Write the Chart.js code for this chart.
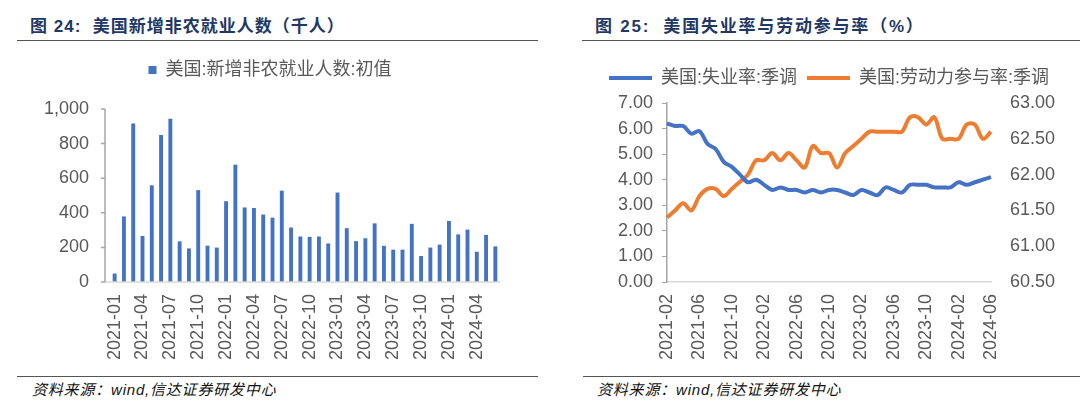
<!DOCTYPE html>
<html>
<head>
<meta charset="utf-8">
<script src="https://cdn.jsdelivr.net/npm/chart.js@4.4.1/dist/chart.umd.min.js"></script>
<style>
  html, body { margin: 0; padding: 0; background: #fff; }
  body { width: 1080px; height: 403px; position: relative; overflow: hidden;
         font-family: "Liberation Sans", "Noto Sans CJK SC", sans-serif; }
  .title { position: absolute; top: 17px; font-size: 17px; font-weight: bold; color: #1f3864;
           letter-spacing: 1px; white-space: pre; line-height: 20px; }
  .rule { position: absolute; height: 1px; background: #555; }
  .foot { position: absolute; top: 381px; font-size: 15px; font-style: italic; color: #111;
          letter-spacing: 0.8px; white-space: pre; line-height: 18px; }
  .box { position: absolute; }
</style>
</head>
<body>
<div class="title" style="left:30px">图 24:  美国新增非农就业人数（千人）</div>
<div class="rule" style="left:17px; width:521px; top:40px"></div>
<div class="title" style="left:595px; letter-spacing:1.8px">图 25:  美国失业率与劳动参与率（%）</div>
<div class="rule" style="left:582px; width:498px; top:40px"></div>

<div class="box" style="left:0; top:46px; width:540px; height:330px"><canvas id="payrollChart"></canvas></div>
<div class="box" style="left:578px; top:46px; width:502px; height:330px"><canvas id="rateChart"></canvas></div>

<div class="rule" style="left:17px; width:521px; top:376px"></div>
<div class="rule" style="left:583px; width:497px; top:376px"></div>
<div class="foot" style="left:32px">资料来源：wind,信达证券研发中心</div>
<div class="foot" style="left:597px">资料来源：wind,信达证券研发中心</div>

<script>
// left chart: monthly nonfarm payrolls, first print (thousands)
const payrollMonths = [
    '2021-01','2021-02','2021-03','2021-04','2021-05','2021-06','2021-07','2021-08','2021-09','2021-10','2021-11','2021-12',
    '2022-01','2022-02','2022-03','2022-04','2022-05','2022-06','2022-07','2022-08','2022-09','2022-10','2022-11','2022-12',
    '2023-01','2023-02','2023-03','2023-04','2023-05','2023-06','2023-07','2023-08','2023-09','2023-10','2023-11','2023-12',
    '2024-01','2024-02','2024-03','2024-04','2024-05','2024-06'
];
const payrolls = [
    49, 379, 916, 266, 559, 850, 943, 235, 194, 531, 210, 199,
    467, 678, 431, 428, 390, 372, 528, 315, 263, 261, 263, 223,
    517, 311, 236, 253, 339, 209, 187, 187, 336, 150, 199, 216,
    353, 275, 303, 175, 272, 206
];

// right chart: unemployment rate and participation rate, seasonally adjusted
const rateMonths = [
    '2021-02','2021-03','2021-04','2021-05','2021-06','2021-07','2021-08','2021-09','2021-10','2021-11','2021-12',
    '2022-01','2022-02','2022-03','2022-04','2022-05','2022-06','2022-07','2022-08','2022-09','2022-10','2022-11','2022-12',
    '2023-01','2023-02','2023-03','2023-04','2023-05','2023-06','2023-07','2023-08','2023-09','2023-10','2023-11','2023-12',
    '2024-01','2024-02','2024-03','2024-04','2024-05','2024-06'
];
const unemployment = [
    6.2, 6.1, 6.1, 5.8, 5.9, 5.4, 5.2, 4.7, 4.5, 4.2, 3.9,
    4.0, 3.8, 3.6, 3.7, 3.6, 3.6, 3.5, 3.6, 3.5, 3.6, 3.6, 3.5,
    3.4, 3.6, 3.5, 3.4, 3.7, 3.6, 3.5, 3.8, 3.8, 3.8, 3.7, 3.7,
    3.7, 3.9, 3.8, 3.9, 4.0, 4.1
];
const participation = [
    61.4, 61.5, 61.6, 61.5, 61.7, 61.8, 61.8, 61.7, 61.8, 61.9, 62.0,
    62.2, 62.2, 62.3, 62.2, 62.3, 62.2, 62.1, 62.4, 62.3, 62.3, 62.1, 62.3,
    62.4, 62.5, 62.6, 62.6, 62.6, 62.6, 62.6, 62.8, 62.8, 62.7, 62.8, 62.5,
    62.5, 62.5, 62.7, 62.7, 62.5, 62.6
];

const FONT = '"Liberation Sans", "Noto Sans CJK SC", sans-serif';
const GREY = '#595959';
const BLUE = '#4472c4';
const ORANGE = '#ed7d31';

Chart.defaults.font.family = FONT;
Chart.defaults.color = GREY;
Chart.defaults.animation = false;

// Excel puts the value axis a bit left of the first bar
const offsetAxis = {
    id: 'offsetAxis',
    afterDraw(chart) {
        const { ctx, chartArea: a, scales: { y } } = chart;
        const x0 = a.left - 5;
        ctx.save();
        ctx.lineWidth = 1.5;
        ctx.strokeStyle = '#d9d9d9';
        ctx.beginPath();
        ctx.moveTo(x0, a.bottom);
        ctx.lineTo(a.right, a.bottom);
        ctx.stroke();
        ctx.strokeStyle = '#a6a6a6';
        ctx.beginPath();
        ctx.moveTo(x0, a.top);
        ctx.lineTo(x0, a.bottom);
        y.ticks.forEach((t, i) => {
            const py = y.getPixelForTick(i);
            ctx.moveTo(x0 - 4, py);
            ctx.lineTo(x0, py);
        });
        ctx.stroke();
        ctx.restore();
    }
};

// empty subtitle used only as a gap between legend and plot
const spacer = gap => ({
    display: true, text: '', weight: 500,
    font: { size: 1, lineHeight: 1 }, padding: { top: gap - 1, bottom: 0 }
});

new Chart(document.getElementById('payrollChart'), {
    type: 'bar',
    data: {
        labels: payrollMonths,
        datasets: [{
            label: '美国:新增非农就业人数:初值',
            data: payrolls,
            backgroundColor: BLUE,
            barPercentage: 0.42,
            categoryPercentage: 1.0
        }]
    },
    options: {
        responsive: true,
        maintainAspectRatio: false,
        layout: { padding: { left: 40, right: 40, top: 5, bottom: 0 } },
        plugins: {
            legend: {
                labels: { boxWidth: 8, boxHeight: 8, font: { size: 18 }, color: GREY, padding: 10 }
            },
            subtitle: spacer(20),
            tooltip: { enabled: false }
        },
        scales: {
            x: {
                grid: { display: false },
                border: { display: false },
                afterFit: s => { s.height = 94; },
                ticks: {
                    autoSkip: false, minRotation: 90, maxRotation: 90, padding: 4,
                    font: { size: 18 }, color: GREY,
                    callback: (v, i) => i % 3 === 0 ? payrollMonths[i] : ''
                }
            },
            y: {
                min: 0, max: 1000,
                grid: { display: false },
                border: { display: false },
                afterFit: s => { s.width = 70; },
                ticks: {
                    stepSize: 200, padding: 13, font: { size: 18 }, color: GREY,
                    callback: v => v.toLocaleString('en-US')
                }
            }
        }
    },
    plugins: [offsetAxis]
});

new Chart(document.getElementById('rateChart'), {
    type: 'line',
    data: {
        labels: rateMonths,
        datasets: [
            {
                label: '美国:失业率:季调',
                data: unemployment,
                borderColor: BLUE,
                backgroundColor: BLUE,
                borderWidth: 4,
                pointRadius: 0,
                tension: 0.35,
                yAxisID: 'y'
            },
            {
                label: '美国:劳动力参与率:季调',
                data: participation,
                borderColor: ORANGE,
                backgroundColor: ORANGE,
                borderWidth: 4,
                pointRadius: 0,
                tension: 0.35,
                yAxisID: 'y1'
            }
        ]
    },
    options: {
        responsive: true,
        maintainAspectRatio: false,
        layout: { padding: { left: 0, right: 0, top: 13, bottom: 0 } },
        plugins: {
            legend: {
                labels: {
                    boxWidth: 43, boxHeight: 4, font: { size: 18 }, color: GREY, padding: 10,
                    generateLabels: chart => Chart.defaults.plugins.legend.labels.generateLabels(chart)
                        .map(l => ({ ...l, lineWidth: 0 }))
                }
            },
            subtitle: spacer(6),
            tooltip: { enabled: false }
        },
        scales: {
            x: {
                grid: { display: false },
                border: { display: true, color: '#d9d9d9', width: 1.5 },
                afterFit: s => { s.height = 94; },
                ticks: {
                    autoSkip: false, minRotation: 90, maxRotation: 90, padding: 4,
                    font: { size: 18 }, color: GREY,
                    callback: (v, i) => i % 4 === 0 ? rateMonths[i] : ''
                }
            },
            y: {
                position: 'left',
                min: 0, max: 7,
                grid: { display: true, drawOnChartArea: false, tickLength: 5, color: '#a6a6a6' },
                border: { display: true, color: '#a6a6a6', width: 1.5 },
                afterFit: s => { s.width = 89; },
                ticks: { stepSize: 1, padding: 9, font: { size: 18 }, color: GREY, callback: v => v.toFixed(2) }
            },
            y1: {
                position: 'right',
                min: 60.5, max: 63,
                grid: { display: false },
                border: { display: false },
                afterFit: s => { s.width = 89; },
                ticks: { stepSize: 0.5, padding: 11, font: { size: 18 }, color: GREY, callback: v => v.toFixed(2) }
            }
        }
    }
});
</script>
</body>
</html>
